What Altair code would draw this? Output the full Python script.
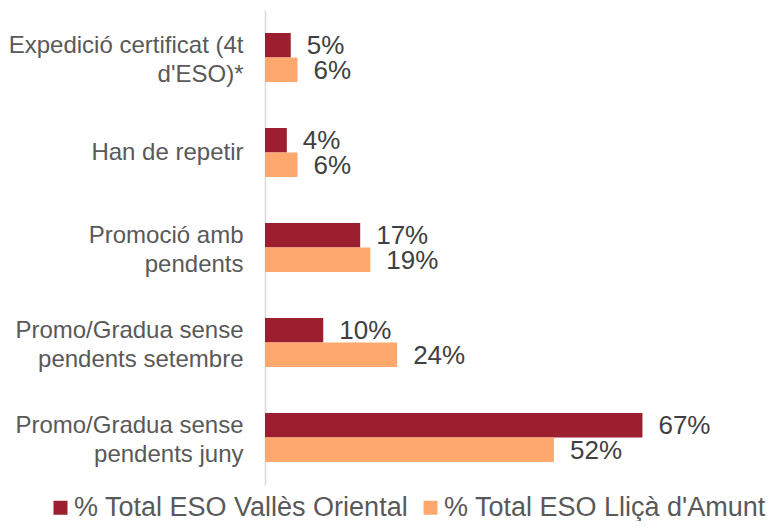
import altair as alt
import pandas as pd

categories = [
    "Expedició certificat (4t|d'ESO)*",
    "Han de repetir",
    "Promoció amb|pendents",
    "Promo/Gradua sense|pendents setembre",
    "Promo/Gradua sense|pendents juny",
]
series_names = ["% Total ESO Vallès Oriental", "% Total ESO Lliçà d'Amunt"]
valles = [4.6, 3.9, 17.0, 10.4, 67.4]
llica = [5.8, 5.8, 18.8, 23.6, 51.6]
colors = ["#9B1F2F", "#FFA86E"]

rows = []
for c, v1, v2 in zip(categories, valles, llica):
    rows.append({"cat": c, "series": series_names[0], "value": v1})
    rows.append({"cat": c, "series": series_names[1], "value": v2})
df = pd.DataFrame(rows)

FONT = "Liberation Sans"

base = alt.Chart(df).transform_calculate(
    label="format(datum.value, '.0f') + '%'"
).encode(
    y=alt.Y(
        "cat:N",
        sort=categories,
        scale=alt.Scale(paddingInner=0.484, paddingOuter=0.242),
        axis=alt.Axis(
            title=None,
            labelExpr="split(datum.label, '|')",
            labelFontSize=24,
            labelFont=FONT,
            labelColor="#595959",
            labelPadding=22,
            labelLineHeight=29,
            labelLimit=0,
            labelOffset={
                "condition": {"test": "indexof(datum.value, '|') >= 0", "value": -12},
                "value": 0,
            },
            ticks=False,
            domainColor="#d9d9d9",
            domainWidth=1.5,
            grid=False,
        ),
    ),
    yOffset=alt.YOffset("series:N", sort=series_names),
)

bars = base.mark_bar().encode(
    x=alt.X("value:Q", scale=alt.Scale(domain=[0, 80]), axis=None),
    color=alt.Color(
        "series:N",
        sort=series_names,
        scale=alt.Scale(domain=series_names, range=colors),
        legend=alt.Legend(
            title=None,
            orient="none",
            legendX=-218,
            legendY=484,
            padding=0,
            direction="horizontal",
            symbolType="square",
            symbolSize=196,
            symbolStrokeWidth=0,
            labelFontSize=27,
            labelFont=FONT,
            labelColor="#595959",
            labelOffset=0,
            columnPadding=8,
            labelLimit=0,
        ),
    ),
)

text = base.mark_text(
    align="left", baseline="middle", dx=16, dy=1, fontSize=26, font=FONT, color="#404040"
).encode(
    x=alt.X("value:Q", scale=alt.Scale(domain=[0, 80]), axis=None),
    text="label:N",
)

chart = (
    alt.layer(bars, text)
    .properties(
        width=448,
        height=475,
        autosize=alt.AutoSizeParams(type="none"),
        padding={"left": 257, "top": 2, "right": 53, "bottom": 36},
    )
    .configure(font=FONT, background="white")
    .configure_view(stroke=None)
)

chart.save("out.html", embed_options={"renderer": "svg", "actions": False})
